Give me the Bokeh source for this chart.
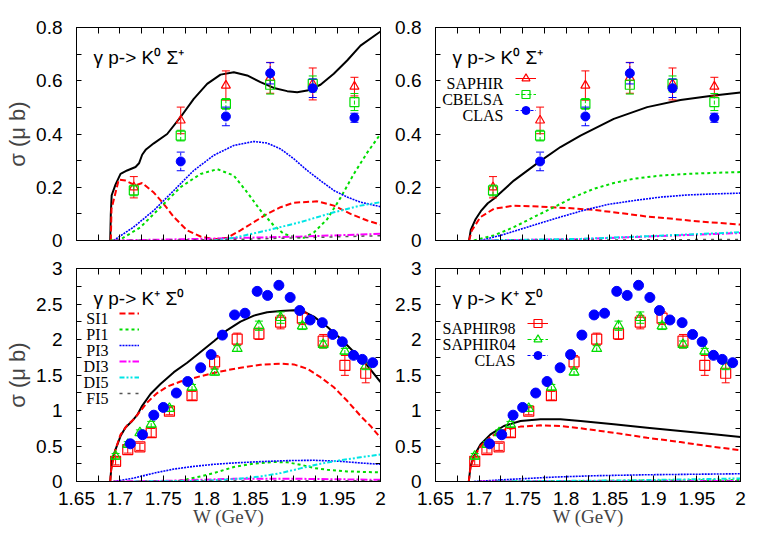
from bokeh.plotting import figure
from bokeh.models import (Range1d, FixedTicker, CustomJSTickFormatter, LinearAxis, Label,
                          Legend, LegendItem, ColumnDataSource, CustomLabelingPolicy)
from bokeh.layouts import column, row
from bokeh.embed import file_html
from bokeh.resources import INLINE

# ---------------- axis ticks ----------------
x_ticks = [1.65, 1.7, 1.75, 1.8, 1.85, 1.9, 1.95, 2.0]
x_minor = [1.675, 1.725, 1.775, 1.825, 1.875, 1.925, 1.975]
y_ticks_top = [0, 0.2, 0.4, 0.6, 0.8]
y_minor_top = [0.1, 0.3, 0.5, 0.7]
y_ticks_bot = [0, 0.5, 1, 1.5, 2, 2.5, 3]
y_minor_bot = [0.25, 0.75, 1.25, 1.75, 2.25, 2.75]

# ---------------- gamma p -> K0 Sigma+ data ----------------
w_k0 = [1.716, 1.770, 1.822, 1.873, 1.922, 1.970]
saphir_k0 = [0.200, 0.451, 0.582, 0.611, 0.588, 0.578]
saphir_k0_err = [0.040, 0.050, 0.055, 0.058, 0.060, 0.035]
cbelsa_k0 = [0.188, 0.394, 0.513, 0.585, 0.588, 0.520]
cbelsa_k0_err = [0.020, 0.020, 0.020, 0.035, 0.030, 0.032]
w_clas_k0 = [1.770, 1.822, 1.873, 1.922, 1.970]
clas_k0 = [0.297, 0.466, 0.628, 0.572, 0.461]
clas_k0_err = [0.035, 0.035, 0.040, 0.035, 0.017]

# ---------------- gamma p -> K+ Sigma0 data ----------------
w_s98 = [1.695, 1.709, 1.723, 1.736, 1.757, 1.783, 1.809, 1.835, 1.860, 1.885, 1.910, 1.934, 1.959, 1.983]
saphir98 = [0.284, 0.450, 0.488, 0.687, 0.990, 1.209, 1.685, 2.005, 2.080, 2.245, 2.300, 1.976, 1.635, 1.525]
saphir98_err = [0.05, 0.05, 0.05, 0.06, 0.05, 0.06, 0.09, 0.085, 0.08, 0.095, 0.09, 0.095, 0.14, 0.135]
saphir04 = [0.355, 0.521, 0.687, 0.806, 1.028, 1.327, 1.540, 1.872, 2.194, 2.308, 2.190, 1.929, 1.834, 1.625]
saphir04_err = [0.04, 0.04, 0.04, 0.04, 0.04, 0.04, 0.04, 0.04, 0.065, 0.08, 0.05, 0.05, 0.04, 0.05]
w_clas_kp = [1.712, 1.726, 1.739, 1.750, 1.765, 1.778, 1.793, 1.805, 1.818, 1.832, 1.844, 1.858,
             1.870, 1.883, 1.896, 1.907, 1.919, 1.933, 1.945, 1.956, 1.969, 1.979, 1.991]
clas_kp = [0.531, 0.659, 0.934, 1.043, 1.246, 1.408, 1.602, 1.787, 2.062, 2.346, 2.370, 2.678,
           2.621, 2.763, 2.592, 2.408, 2.275, 2.237, 2.071, 1.967, 1.777, 1.720, 1.673]
clas_kp_err = [0.02] * 23

# ---------------- model curves, top-left (full fit) ----------------
tl_tot_w = [1.6888, 1.6895, 1.6905, 1.6949, 1.7007, 1.7083, 1.7180, 1.7220, 1.7256, 1.7300, 1.7390,
            1.7544, 1.7697, 1.7850, 1.8004, 1.8158, 1.8311, 1.8465, 1.8618, 1.8772, 1.8926, 1.9041,
            1.9156, 1.9309, 1.9462, 1.9616, 1.9770, 2.0]
tl_tot = [0.0, 0.10, 0.17, 0.21, 0.25, 0.263, 0.276, 0.290, 0.322, 0.342, 0.365, 0.400, 0.463, 0.532,
          0.588, 0.623, 0.632, 0.620, 0.595, 0.573, 0.561, 0.557, 0.563, 0.585, 0.626, 0.676, 0.732, 0.785]
tl_si1_w = [1.6895, 1.6903, 1.6987, 1.7064, 1.7179, 1.7256, 1.7390, 1.7505, 1.7621, 1.7774, 1.7928,
            1.8081, 1.8235, 1.8388, 1.8542, 1.8695, 1.8849, 1.9002, 1.9271, 1.9463, 1.9655, 1.9847, 2.0]
tl_si1 = [0.0, 0.119, 0.229, 0.225, 0.207, 0.216, 0.180, 0.137, 0.088, 0.038, 0.015, 0.005, 0.010,
          0.038, 0.069, 0.100, 0.125, 0.142, 0.147, 0.131, 0.100, 0.075, 0.060]
tl_pi1_w = [1.6890, 1.7007, 1.7237, 1.7467, 1.7697, 1.7928, 1.8120, 1.8311, 1.8465, 1.8618, 1.8772,
            1.8887, 1.9002, 1.9117, 1.9233, 1.9386, 1.9539, 1.9693, 1.9847, 2.0]
tl_pi1 = [0.0, 0.004, 0.050, 0.125, 0.200, 0.250, 0.268, 0.244, 0.181, 0.113, 0.056, 0.025, 0.013,
          0.010, 0.030, 0.080, 0.160, 0.250, 0.330, 0.400]
tl_pi3_w = [1.6926, 1.7156, 1.7390, 1.7621, 1.7850, 1.8081, 1.8311, 1.8542, 1.8695, 1.8849, 1.9002,
            1.9156, 1.9309, 1.9463, 1.9616, 1.9770, 2.0]
tl_pi3 = [0.0, 0.050, 0.113, 0.188, 0.263, 0.320, 0.357, 0.372, 0.366, 0.344, 0.307, 0.263, 0.225,
          0.188, 0.163, 0.144, 0.127]
tl_di3_w = [1.6926, 1.7928, 1.9079, 2.0]
tl_di3 = [0.0, 0.006, 0.015, 0.025]
tl_di5_w = [1.8081, 1.8311, 1.8695, 1.9079, 1.9463, 1.9770, 2.0]
tl_di5 = [0.0, 0.010, 0.038, 0.069, 0.106, 0.131, 0.144]
tl_fi5_w = [1.6926, 1.8311, 2.0]
tl_fi5 = [0.0, 0.004, 0.018]

# ---------------- model curves, top-right ----------------
tr_tot_w = [1.6885, 1.6905, 1.6960, 1.7020, 1.7100, 1.7170, 1.7399, 1.7697, 1.7934, 1.8164, 1.8546,
            1.8929, 1.9311, 1.9694, 2.0]
tr_tot = [0.0, 0.040, 0.080, 0.110, 0.140, 0.157, 0.225, 0.297, 0.351, 0.394, 0.457, 0.501, 0.528,
          0.545, 0.556]
tr_si1_w = [1.6885, 1.6917, 1.7016, 1.7169, 1.7399, 1.7705, 1.8011, 1.8317, 1.8623, 1.8929, 1.9235,
            1.9540, 2.0]
tr_si1 = [0.0, 0.038, 0.088, 0.119, 0.131, 0.127, 0.122, 0.115, 0.103, 0.090, 0.081, 0.071, 0.060]
tr_pi1_w = [1.6940, 1.7169, 1.7399, 1.7628, 1.7858, 1.8087, 1.8317, 1.8546, 1.8776, 1.9082, 1.9388,
            1.9694, 2.0]
tr_pi1 = [0.0, 0.019, 0.050, 0.088, 0.125, 0.163, 0.194, 0.216, 0.232, 0.244, 0.250, 0.254, 0.257]
tr_pi3_w = [1.7016, 1.7246, 1.7552, 1.7858, 1.8164, 1.8470, 1.8776, 1.9082, 1.9388, 1.9694, 2.0]
tr_pi3 = [0.0, 0.019, 0.050, 0.081, 0.110, 0.135, 0.150, 0.163, 0.171, 0.175, 0.178]
tr_di3_w = [1.7000, 1.8164, 1.8929, 2.0]
tr_di3 = [0.0, 0.005, 0.015, 0.028]
tr_di5_w = [1.7000, 1.8164, 1.8929, 2.0]
tr_di5 = [0.0, 0.006, 0.016, 0.031]
tr_fi5_w = [1.7000, 2.0]
tr_fi5 = [0.0, 0.004]

# ---------------- model curves, bottom-left (full fit) ----------------
bl_tot_w = [1.6888, 1.6899, 1.6911, 1.6949, 1.7007, 1.7064, 1.7141, 1.7198, 1.7256, 1.7352, 1.7467,
            1.7621, 1.7774, 1.7928, 1.8081, 1.8235, 1.8388, 1.8542, 1.8695, 1.8849, 1.9002, 1.9117,
            1.9233, 1.9386, 1.9539, 1.9693, 1.9847, 2.0]
bl_tot = [0.0, 0.166, 0.310, 0.450, 0.640, 0.760, 0.853, 0.934, 1.066, 1.232, 1.374, 1.540, 1.673,
          1.825, 1.976, 2.133, 2.251, 2.336, 2.384, 2.403, 2.412, 2.393, 2.322, 2.180, 2.014, 1.825,
          1.635, 1.400]
bl_si1_w = [1.6888, 1.6899, 1.6949, 1.7007, 1.7083, 1.7160, 1.7237, 1.7314, 1.7429, 1.7544, 1.7697,
            1.7928, 1.8158, 1.8388, 1.8618, 1.8849, 1.9002, 1.9156, 1.9309, 1.9463, 1.9616, 1.9770,
            1.9885, 2.0]
bl_si1 = [0.0, 0.166, 0.450, 0.660, 0.790, 0.877, 0.995, 1.114, 1.246, 1.336, 1.408, 1.483, 1.550,
          1.602, 1.645, 1.659, 1.649, 1.588, 1.469, 1.327, 1.137, 0.924, 0.782, 0.616]
bl_pi1_w = [1.7621, 1.7774, 1.7928, 1.8081, 1.8311, 1.8542, 1.8772, 1.8926, 1.9079, 1.9233, 1.9386,
            1.9616, 2.0]
bl_pi1 = [0.0, 0.033, 0.071, 0.118, 0.204, 0.251, 0.275, 0.270, 0.237, 0.190, 0.166, 0.142, 0.128]
bl_pi3_w = [1.6926, 1.7160, 1.7390, 1.7621, 1.7850, 1.8081, 1.8311, 1.8618, 1.8926, 1.9233, 1.9539,
            1.9770, 2.0]
bl_pi3 = [0.0, 0.047, 0.118, 0.175, 0.213, 0.242, 0.261, 0.280, 0.294, 0.299, 0.284, 0.261, 0.242]
bl_di3_w = [1.6926, 1.7544, 1.8311, 1.9079, 2.0]
bl_di3 = [0.0, 0.010, 0.038, 0.038, 0.024]
bl_di5_w = [1.7160, 1.7928, 1.8311, 1.8618, 1.8849, 1.9079, 1.9309, 1.9539, 1.9770, 2.0]
bl_di5 = [0.0, 0.010, 0.033, 0.071, 0.118, 0.185, 0.251, 0.299, 0.341, 0.379]
bl_fi5_w = [1.6926, 1.8311, 2.0]
bl_fi5 = [0.0, 0.010, 0.012]

# ---------------- model curves, bottom-right ----------------
br_tot_w = [1.6882, 1.6902, 1.6940, 1.7016, 1.7131, 1.7284, 1.7475, 1.7705, 1.7934, 1.8164, 1.8546,
            1.8929, 1.9311, 1.9694, 2.0]
br_tot = [0.0, 0.213, 0.355, 0.521, 0.664, 0.782, 0.853, 0.877, 0.877, 0.853, 0.806, 0.758, 0.711,
          0.664, 0.626]
br_si1 = [0.0, 0.213, 0.332, 0.498, 0.630, 0.725, 0.773, 0.791, 0.782, 0.749, 0.687, 0.616, 0.555,
          0.488, 0.441]
br_pi1_w = [1.7200, 1.8500, 2.0]
br_pi1 = [0.0, 0.010, 0.020]
br_pi3_w = [1.6940, 1.7399, 1.7858, 1.8317, 1.8929, 2.0]
br_pi3 = [0.0, 0.033, 0.062, 0.081, 0.095, 0.109]
br_di3_w = [1.7000, 2.0]
br_di3 = [0.0, 0.008]
br_di5_w = [1.7200, 1.8546, 1.9311, 2.0]
br_di5 = [0.0, 0.014, 0.028, 0.043]
br_fi5_w = [1.7000, 2.0]
br_fi5 = [0.0, 0.003]

comp_names = ["SI1", "PI1", "PI3", "DI3", "DI5", "FI5"]

# ---------------- styling ----------------
SANS = "Liberation Sans"
SERIF = "Liberation Serif"
RED = "#ff0000"
GREEN = "#00dd00"
BLUE = "#0000ff"
MAGENTA = "#ff00ff"
CYAN = "#00e5e5"
GRAY = "#555555"

comp_styles = {
    "SI1": dict(line_color=RED, line_dash="6 3", line_width=2),
    "PI1": dict(line_color=GREEN, line_dash="3 3", line_width=2),
    "PI3": dict(line_color=BLUE, line_dash="2 1", line_width=1.6),
    "DI3": dict(line_color=MAGENTA, line_dash="7 2 2 2", line_width=2),
    "DI5": dict(line_color=CYAN, line_dash="5 2 2 2 2 2", line_width=2),
    "FI5": dict(line_color=GRAY, line_dash="3 5", line_width=1.5),
}


def fmt():
    return CustomJSTickFormatter(code="return String(Math.round(tick*1000)/1000);")


def style_axis(ax, ticks, minor, labels, standoff, tick_len):
    ax.ticker = FixedTicker(ticks=ticks, minor_ticks=minor)
    ax.formatter = fmt()
    ax.major_tick_in = tick_len
    ax.major_tick_out = 0
    ax.minor_tick_in = tick_len
    ax.minor_tick_out = 0
    ax.axis_line_color = "black"
    ax.major_tick_line_color = "black"
    ax.minor_tick_line_color = "black"
    if labels:
        ax.major_label_text_font = SANS
        ax.major_label_text_font_size = "19px"
        ax.major_label_text_color = "black"
        ax.major_label_standoff = standoff
    else:
        ax.major_label_text_font_size = "0px"
        ax.major_label_standoff = 0
        ax.major_label_policy = CustomLabelingPolicy(code="return [];")


def make_fig(w, h, bl, br, bt, bb, ymax, yt, ym, xlabels, ylabel):
    p = figure(width=w, height=h, x_range=Range1d(1.65, 2.0), y_range=Range1d(0, ymax),
               output_backend="svg", toolbar_location=None,
               min_border_left=bl, min_border_right=br, min_border_top=bt, min_border_bottom=bb)
    p.xgrid.visible = False
    p.ygrid.visible = False
    p.outline_line_color = "black"
    p.outline_line_width = 1
    p.background_fill_color = "white"
    p.border_fill_color = "white"
    xa = p.xaxis[0]
    ya = p.yaxis[0]
    style_axis(xa, x_ticks, x_minor, xlabels, 10, 6)
    style_axis(ya, yt, ym, True, 14, 5)
    if xlabels:
        xa.axis_label = "W (GeV)"
        xa.axis_label_text_font = SERIF
        xa.axis_label_text_font_size = "19px"
        xa.axis_label_text_font_style = "normal"
        xa.axis_label_standoff = -2
    if ylabel:
        ya.axis_label = "σ (μ b)"
        ya.axis_label_text_font = SANS
        ya.axis_label_text_font_size = "22px"
        ya.axis_label_text_font_style = "normal"
        ya.axis_label_standoff = 3
    top = LinearAxis()
    style_axis(top, x_ticks, x_minor, False, 0, 6)
    p.add_layout(top, "above")
    right = LinearAxis()
    style_axis(right, yt, ym, False, 0, 5)
    p.add_layout(right, "right")
    return p


def add_text(p, text, x, y, font, size, align="left"):
    p.add_layout(Label(x=x, y=y, x_units="screen", y_units="screen", text=text,
                       text_font=font, text_font_size=size, text_baseline="alphabetic",
                       text_align=align, text_color="black"))


def add_curves(p, tot, comps):
    p.line(tot[0], tot[1], line_color="black", line_width=2)
    rs = {}
    for name, (wv, vv) in comps.items():
        rs[name] = p.line(wv, vv, **comp_styles[name])
    return rs


def add_series(p, wv, vv, ev, color, marker, size, dash, filled):
    src = ColumnDataSource(dict(x=wv, y=vv, lo=[a - b for a, b in zip(vv, ev)],
                                hi=[a + b for a, b in zip(vv, ev)]))
    bar = p.segment(x0="x", y0="lo", x1="x", y1="hi", source=src, line_color=color,
                    line_width=1, line_dash=dash)
    p.scatter("x", "lo", source=src, marker="dash", size=8, line_color=color, line_width=1)
    p.scatter("x", "hi", source=src, marker="dash", size=8, line_color=color, line_width=1)
    if filled:
        sr = p.scatter("x", "y", source=src, marker=marker, size=size, fill_color=color,
                       line_color=color)
    else:
        sr = p.scatter("x", "y", source=src, marker=marker, size=size, fill_color=None,
                       line_color=color, line_width=1.2)
    return [bar, sr]


def row_legends(p, renderer_lists, x, y_centers, gw):
    # one legend per row: only the samples are drawn here, names are separate text labels
    for rl, yc in zip(renderer_lists, y_centers):
        leg = Legend(items=[LegendItem(label=" ", renderers=rl)], location=(x, yc - 10),
                     glyph_width=gw, glyph_height=20, label_height=20, label_width=1, spacing=0,
                     padding=0, margin=0, label_standoff=0, label_text_font_size="1px",
                     border_line_alpha=0, background_fill_alpha=0)
        p.add_layout(leg)


# ---------------- top-left ----------------
p1 = make_fig(388, 250, 76, 8, 27, 10, 0.8, y_ticks_top, y_minor_top, False, True)
add_curves(p1, (tl_tot_w, tl_tot), {"SI1": (tl_si1_w, tl_si1), "PI1": (tl_pi1_w, tl_pi1),
                                    "PI3": (tl_pi3_w, tl_pi3), "DI3": (tl_di3_w, tl_di3),
                                    "DI5": (tl_di5_w, tl_di5), "FI5": (tl_fi5_w, tl_fi5)})
add_series(p1, w_k0, saphir_k0, saphir_k0_err, RED, "triangle", 9, "solid", False)
add_series(p1, w_k0, cbelsa_k0, cbelsa_k0_err, GREEN, "square", 9, "4 2", False)
add_series(p1, w_clas_k0, clas_k0, clas_k0_err, BLUE, "circle", 9, "3 2", True)
add_text(p1, "γ p-> K⁰ Σ⁺", 17, 183, SANS, "19px")

# ---------------- top-right ----------------
p2 = make_fig(375, 250, 47, 23, 27, 10, 0.8, y_ticks_top, y_minor_top, False, False)
add_curves(p2, (tr_tot_w, tr_tot), {"SI1": (tr_si1_w, tr_si1), "PI1": (tr_pi1_w, tr_pi1),
                                    "PI3": (tr_pi3_w, tr_pi3), "DI3": (tr_di3_w, tr_di3),
                                    "DI5": (tr_di5_w, tr_di5), "FI5": (tr_fi5_w, tr_fi5)})
r_sa = add_series(p2, w_k0, saphir_k0, saphir_k0_err, RED, "triangle", 9, "solid", False)
r_cb = add_series(p2, w_k0, cbelsa_k0, cbelsa_k0_err, GREEN, "square", 9, "4 2", False)
r_cl = add_series(p2, w_clas_k0, clas_k0, clas_k0_err, BLUE, "circle", 9, "3 2", True)
add_text(p2, "γ p-> K⁰ Σ⁺", 17, 183, SANS, "19px")
row_legends(p2, [r_sa, r_cb, r_cl], 80, [162, 146, 130], 21)
for i, name in enumerate(["SAPHIR", "CBELSA", "CLAS"]):
    add_text(p2, name, 68, 156.7 - 16 * i, SERIF, "16px", "right")

# ---------------- bottom-left ----------------
p3 = make_fig(388, 284, 76, 8, 18, 53, 3.0, y_ticks_bot, y_minor_bot, True, True)
rs = add_curves(p3, (bl_tot_w, bl_tot), {"SI1": (bl_si1_w, bl_si1), "PI1": (bl_pi1_w, bl_pi1),
                                         "PI3": (bl_pi3_w, bl_pi3), "DI3": (bl_di3_w, bl_di3),
                                         "DI5": (bl_di5_w, bl_di5), "FI5": (bl_fi5_w, bl_fi5)})
add_series(p3, w_s98, saphir98, saphir98_err, RED, "square", 10, "solid", False)
add_series(p3, w_s98, saphir04, saphir04_err, GREEN, "triangle", 10, "4 2", False)
add_series(p3, w_clas_kp, clas_kp, clas_kp_err, BLUE, "circle", 10, "3 2", True)
add_text(p3, "γ p-> K⁺ Σ⁰", 17, 183, SANS, "19px")
row_legends(p3, [[rs[n]] for n in comp_names], 43, [168, 152, 136, 120, 104, 88], 20)
for i, name in enumerate(comp_names):
    add_text(p3, name, 32, 162.7 - 16 * i, SERIF, "16px", "right")

# ---------------- bottom-right ----------------
p4 = make_fig(375, 284, 47, 23, 18, 53, 3.0, y_ticks_bot, y_minor_bot, True, False)
add_curves(p4, (br_tot_w, br_tot), {"SI1": (br_tot_w, br_si1), "PI1": (br_pi1_w, br_pi1),
                                    "PI3": (br_pi3_w, br_pi3), "DI3": (br_di3_w, br_di3),
                                    "DI5": (br_di5_w, br_di5), "FI5": (br_fi5_w, br_fi5)})
r98 = add_series(p4, w_s98, saphir98, saphir98_err, RED, "square", 10, "solid", False)
r04 = add_series(p4, w_s98, saphir04, saphir04_err, GREEN, "triangle", 10, "4 2", False)
rcl = add_series(p4, w_clas_kp, clas_kp, clas_kp_err, BLUE, "circle", 10, "3 2", True)
add_text(p4, "γ p-> K⁺ Σ⁰", 17, 183, SANS, "19px")
row_legends(p4, [r98, r04, rcl], 92, [158, 142, 126], 21)
for i, name in enumerate(["SAPHIR98", "SAPHIR04", "CLAS"]):
    add_text(p4, name, 80, 152.7 - 16 * i, SERIF, "16px", "right")

layout = column(row(p1, p2), row(p3, p4))
open("out.html", "w").write(file_html(layout, INLINE))
